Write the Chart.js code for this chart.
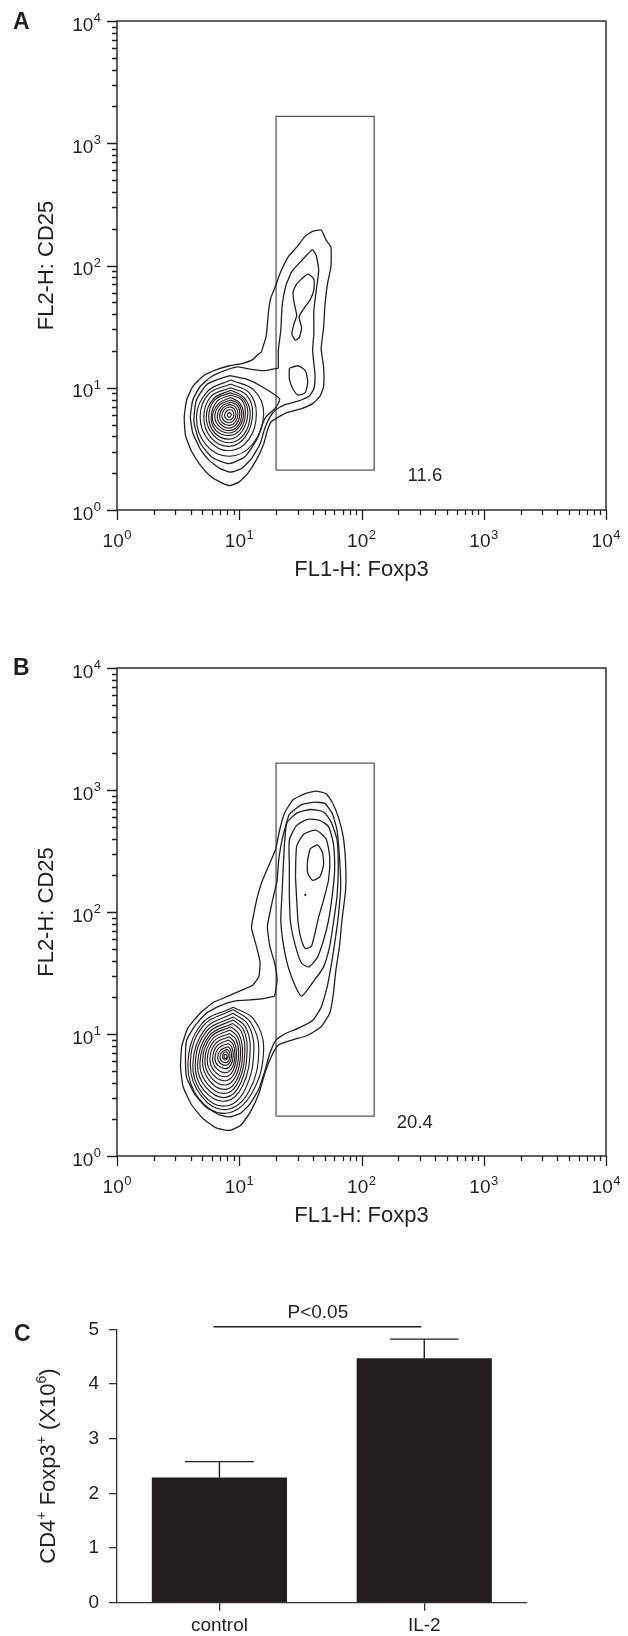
<!DOCTYPE html>
<html>
<head>
<meta charset="utf-8">
<script src="https://cdn.jsdelivr.net/npm/chart.js@4.4.1/dist/chart.umd.min.js"></script>
<style>
  html, body { margin: 0; padding: 0; background: #fff; }
  body { width: 628px; height: 1636px; position: relative; overflow: hidden; }
  canvas { position: absolute; left: 0; }
</style>
</head>
<body>
<canvas id="panelA" width="628" height="600" style="top:0"></canvas>
<canvas id="panelB" width="628" height="600" style="top:640px"></canvas>
<canvas id="panelC" width="628" height="356" style="top:1280px"></canvas>
<script>
// panel A / B: contour lines, points are [log10 FL1, log10 FL2]
const aOuter = [
  [1.18,1.29],[1.22,1.42],[1.24,1.63],[1.26,1.74],[1.30,1.84],[1.34,1.95],[1.40,2.07],[1.47,2.15],
  [1.54,2.24],[1.60,2.28],[1.67,2.29],[1.71,2.21],[1.75,2.15],[1.75,1.99],[1.72,1.84],[1.70,1.66],
  [1.69,1.49],[1.67,1.32],[1.69,1.17],[1.69,1.01],[1.66,0.93],[1.60,0.87],[1.51,0.83],[1.40,0.80],
  [1.32,0.76],[1.26,0.72],[1.23,0.65],[1.20,0.54],[1.14,0.41],[1.07,0.30],[1.00,0.23],[0.92,0.20],
  [0.84,0.23],[0.76,0.28],[0.68,0.37],[0.61,0.48],[0.56,0.61],[0.55,0.76],[0.57,0.90],[0.62,1.01],
  [0.71,1.10],[0.82,1.15],[0.92,1.18],[1.03,1.20],[1.11,1.23],[1.15,1.27]
];
const aSecond = [
  [1.32,1.16],[1.32,1.31],[1.34,1.47],[1.35,1.66],[1.38,1.83],[1.43,1.95],[1.51,2.04],[1.60,2.13],
  [1.63,2.08],[1.65,1.96],[1.63,1.80],[1.61,1.63],[1.61,1.44],[1.60,1.31],[1.61,1.20],[1.62,1.10],
  [1.61,0.99],[1.57,0.93],[1.48,0.89],[1.37,0.86],[1.30,0.82],[1.25,0.76],[1.21,0.67],[1.17,0.54],
  [1.10,0.42],[1.02,0.34],[0.93,0.31],[0.84,0.34],[0.75,0.41],[0.68,0.50],[0.62,0.63],[0.60,0.76],
  [0.62,0.90],[0.68,1.01],[0.77,1.09],[0.88,1.14],[0.99,1.17],[1.10,1.15],[1.21,1.14]
];
const aTailIslands = [
  [[1.51,1.89],[1.56,1.93],[1.61,1.89],[1.61,1.80],[1.58,1.72],[1.53,1.65],[1.49,1.58],[1.51,1.49],
   [1.49,1.41],[1.46,1.39],[1.43,1.44],[1.45,1.53],[1.47,1.59],[1.45,1.69],[1.44,1.78],[1.47,1.85]],
  [[1.41,1.16],[1.48,1.18],[1.54,1.14],[1.56,1.05],[1.54,0.96],[1.48,0.94],[1.44,0.99],[1.41,1.07]],
  [[0.92,1.10],[1.06,1.07],[1.20,1.00],[1.33,0.91],[1.30,0.84],[1.21,0.75],[1.15,0.59],[1.05,0.44],
   [0.92,0.38],[0.78,0.43],[0.68,0.55],[0.63,0.72],[0.65,0.90],[0.74,1.03]]
];
const aBlobRings = [
  [[0.93,1.063],[1.12,0.98],[1.20,0.79],[1.11,0.54],[0.92,0.44],[0.73,0.53],[0.65,0.76],[0.74,0.97]],
  [[0.93,1.03],[1.08,0.96],[1.14,0.79],[1.08,0.58],[0.92,0.485],[0.75,0.57],[0.68,0.76],[0.75,0.95]],
  [[0.93,1.00],[1.06,0.94],[1.11,0.79],[1.05,0.60],[0.92,0.52],[0.77,0.59],[0.71,0.76],[0.77,0.93]],
  [[0.93,0.98],[1.04,0.92],[1.09,0.79],[1.04,0.62],[0.92,0.55],[0.79,0.61],[0.73,0.76],[0.79,0.91]],
  [[0.93,0.96],[1.03,0.91],[1.07,0.79],[1.02,0.64],[0.92,0.58],[0.80,0.63],[0.75,0.76],[0.80,0.90]],
  [[0.93,0.94],[1.02,0.90],[1.05,0.79],[1.01,0.66],[0.92,0.61],[0.81,0.65],[0.77,0.76],[0.82,0.89]],
  [[0.93,0.92],[1.00,0.88],[1.035,0.79],[1.00,0.68],[0.92,0.63],[0.82,0.67],[0.78,0.76],[0.83,0.87]],
  [[0.93,0.90],[0.99,0.87],[1.02,0.79],[0.99,0.69],[0.92,0.65],[0.84,0.68],[0.80,0.76],[0.84,0.86]],
  [[0.93,0.883],[0.983,0.855],[1.005,0.79],[0.98,0.706],[0.92,0.67],[0.85,0.697],[0.82,0.76],[0.853,0.846]],
  [[0.925,0.864],[0.97,0.842],[0.989,0.785],[0.968,0.72],[0.92,0.692],[0.863,0.714],[0.839,0.765],[0.865,0.834]],
  [[0.922,0.845],[0.958,0.827],[0.973,0.782],[0.955,0.733],[0.918,0.714],[0.876,0.73],[0.858,0.768],[0.877,0.822]],
  [[0.92,0.823],[0.945,0.812],[0.956,0.78],[0.945,0.75],[0.918,0.736],[0.892,0.748],[0.880,0.772],[0.892,0.805]],
  [[0.918,0.80],[0.935,0.782],[0.918,0.758],[0.902,0.778]]
];

const bOuter = [
  [1.30,2.52],[1.33,2.67],[1.37,2.81],[1.44,2.92],[1.54,2.97],[1.63,2.99],[1.71,2.97],[1.76,2.90],
  [1.81,2.78],[1.85,2.62],[1.87,2.40],[1.87,2.18],[1.84,1.93],[1.82,1.72],[1.79,1.52],[1.77,1.33],
  [1.74,1.17],[1.67,1.06],[1.56,0.99],[1.43,0.95],[1.32,0.91],[1.26,0.81],[1.21,0.68],[1.16,0.51],
  [1.09,0.36],[1.01,0.25],[0.92,0.21],[0.81,0.23],[0.70,0.31],[0.61,0.42],[0.54,0.57],[0.52,0.73],
  [0.53,0.90],[0.58,1.05],[0.68,1.17],[0.79,1.26],[0.91,1.31],[1.02,1.36],[1.11,1.40],[1.16,1.47],
  [1.17,1.59],[1.14,1.72],[1.10,1.87],[1.12,1.99],[1.15,2.13],[1.19,2.26],[1.25,2.40]
];
const bSecond = [
  [1.29,1.31],[1.31,1.44],[1.29,1.58],[1.25,1.72],[1.23,1.88],[1.25,1.99],[1.28,2.13],[1.31,2.26],
  [1.32,2.40],[1.34,2.54],[1.37,2.67],[1.41,2.80],[1.51,2.88],[1.62,2.90],[1.70,2.89],[1.76,2.81],
  [1.80,2.67],[1.82,2.45],[1.83,2.21],[1.81,1.96],[1.78,1.74],[1.75,1.55],[1.72,1.39],[1.67,1.22],
  [1.60,1.11],[1.49,1.05],[1.37,1.00],[1.30,0.95],[1.25,0.84],[1.21,0.70],[1.16,0.55],[1.09,0.43],
  [1.01,0.35],[0.92,0.32],[0.83,0.34],[0.73,0.40],[0.64,0.50],[0.57,0.64],[0.56,0.80],[0.57,0.95],
  [0.64,1.07],[0.73,1.17],[0.84,1.23],[0.96,1.27],[1.09,1.28],[1.20,1.29]
];
const bTailRings = [
  [[1.37,2.56],[1.39,2.73],[1.47,2.81],[1.58,2.84],[1.69,2.82],[1.75,2.74],[1.80,2.59],[1.81,2.37],
   [1.80,2.13],[1.77,1.91],[1.74,1.72],[1.69,1.55],[1.60,1.42],[1.51,1.31],[1.46,1.39],[1.40,1.55],
   [1.36,1.74],[1.34,1.93],[1.35,2.15],[1.36,2.37]],
  [[1.41,2.37],[1.41,2.59],[1.47,2.71],[1.56,2.76],[1.66,2.75],[1.73,2.70],[1.77,2.56],[1.78,2.34],
   [1.76,2.13],[1.73,1.93],[1.69,1.77],[1.64,1.63],[1.57,1.55],[1.51,1.58],[1.46,1.72],[1.42,1.91],
   [1.41,2.13]],
  [[1.46,2.29],[1.47,2.54],[1.53,2.64],[1.63,2.67],[1.71,2.60],[1.74,2.45],[1.73,2.26],[1.69,2.10],
   [1.65,1.96],[1.62,1.83],[1.59,1.72],[1.54,1.70],[1.50,1.80],[1.48,1.93],[1.47,2.10]],
  [[1.58,2.52],[1.64,2.55],[1.68,2.49],[1.69,2.39],[1.66,2.29],[1.60,2.26],[1.56,2.32],[1.56,2.43]],
  [[1.535,2.145],[1.545,2.145],[1.54,2.135]]
];
const bBlobRings = [
  [[0.95,1.22],[1.12,1.12],[1.20,0.88],[1.10,0.51],[0.89,0.35],[0.67,0.47],[0.58,0.75],[0.69,1.08]],
  [[0.95,1.20],[1.09,1.10],[1.16,0.88],[1.08,0.53],[0.89,0.38],[0.69,0.49],[0.60,0.75],[0.70,1.06]],
  [[0.95,1.17],[1.07,1.08],[1.12,0.88],[1.05,0.55],[0.89,0.41],[0.70,0.51],[0.62,0.75],[0.72,1.04]],
  [[0.95,1.14],[1.05,1.06],[1.09,0.88],[1.03,0.58],[0.89,0.45],[0.71,0.54],[0.64,0.75],[0.73,1.02]],
  [[0.95,1.115],[1.03,1.045],[1.065,0.88],[1.013,0.60],[0.89,0.48],[0.728,0.562],[0.659,0.75],[0.746,1.006]],
  [[0.945,1.087],[1.016,1.022],[1.046,0.87],[0.999,0.621],[0.89,0.514],[0.742,0.588],[0.678,0.76],[0.758,0.989]],
  [[0.93,1.06],[0.998,0.997],[1.027,0.85],[0.986,0.637],[0.89,0.546],[0.757,0.616],[0.70,0.78],[0.769,0.976]],
  [[0.925,1.033],[0.985,0.977],[1.011,0.845],[0.975,0.661],[0.89,0.582],[0.77,0.643],[0.719,0.785],[0.781,0.959]],
  [[0.92,1.005],[0.973,0.956],[0.995,0.84],[0.964,0.684],[0.89,0.617],[0.784,0.669],[0.738,0.79],[0.793,0.941]],
  [[0.915,0.978],[0.959,0.935],[0.978,0.835],[0.952,0.705],[0.89,0.65],[0.799,0.694],[0.76,0.795],[0.806,0.923]],
  [[0.912,0.951],[0.949,0.915],[0.965,0.83],[0.943,0.727],[0.89,0.683],[0.814,0.718],[0.782,0.80],[0.821,0.906]],
  [[0.908,0.923],[0.938,0.894],[0.951,0.825],[0.933,0.749],[0.89,0.716],[0.828,0.741],[0.801,0.80],[0.833,0.886]],
  [[0.905,0.896],[0.928,0.875],[0.937,0.82],[0.922,0.765],[0.89,0.743],[0.845,0.76],[0.823,0.805],[0.846,0.866]],
  [[0.90,0.874],[0.918,0.858],[0.924,0.82],[0.912,0.78],[0.888,0.765],[0.856,0.778],[0.842,0.81],[0.86,0.853]],
  [[0.895,0.855],[0.908,0.84],[0.91,0.818],[0.90,0.795],[0.885,0.787],[0.868,0.797],[0.864,0.818],[0.873,0.845]],
  [[0.878,0.80],[0.895,0.80],[0.895,0.83],[0.878,0.83]]
];

// gate (same for A and B), in fluorescence units
const gateFL1 = [20, 127];
const gateFL2 = [2.12, 1660];
const gatePercents = ['11.6', '20.4'];
const gateLabelSpots = [[330, 1.90], [273, 1.85]];

// log axes
const decadeExponents = [0, 1, 2, 3, 4];
const minorSteps = [2, 3, 4, 5, 6, 7, 8, 9];

// panel C
const groups = ['control', 'IL-2'];
const cellMeans = [2.29, 4.47];
const cellSem = [0.29, 0.35];
const pLabel = 'P<0.05';

const INK = '#231f20';
const FONT = '"Liberation Sans", Arial, Helvetica, sans-serif';

const logTicks = [];
decadeExponents.forEach(e => {
  logTicks.push(10 ** e);
  if (e < 4) minorSteps.forEach(m => logTicks.push(m * 10 ** e));
});
const isDecade = v => Math.abs(Math.log10(v) - Math.round(Math.log10(v))) < 1e-9;

function ringData(ring) {
  return ring.concat([ring[0]]).map(([lx, ly]) => ({ x: 10 ** lx, y: 10 ** ly }));
}
function lineSet(ring, tension, width) {
  return { data: ringData(ring), showLine: true, tension, borderColor: INK, borderWidth: width, pointRadius: 0, fill: false };
}
function gateSet() {
  const pts = [[gateFL1[0], gateFL2[0]], [gateFL1[1], gateFL2[0]], [gateFL1[1], gateFL2[1]], [gateFL1[0], gateFL2[1]], [gateFL1[0], gateFL2[0]]];
  return { data: pts.map(([x, y]) => ({ x, y })), showLine: true, tension: 0, borderColor: '#58595b', borderWidth: 1.3, pointRadius: 0, fill: false };
}

function drawPower(ctx, px, baseline, e, align) {
  ctx.font = `19px ${FONT}`;
  const w10 = ctx.measureText('10').width;
  ctx.font = `13px ${FONT}`;
  const ws = ctx.measureText(String(e)).width;
  const w = w10 + ws + 0.5;
  const x0 = align === 'center' ? px - w / 2 : px - w;
  ctx.textAlign = 'left';
  ctx.textBaseline = 'alphabetic';
  ctx.font = `19px ${FONT}`;
  ctx.fillText('10', x0, baseline);
  ctx.font = `13px ${FONT}`;
  ctx.fillText(String(e), x0 + w10 + 0.5, baseline - 8.5);
}

const flowFrame = {
  id: 'flowFrame',
  afterDraw(chart, args, o) {
    const { ctx, chartArea: a, scales: { x, y } } = chart;
    ctx.save();
    ctx.strokeStyle = INK;
    ctx.lineWidth = 1.4;
    ctx.strokeRect(a.left, a.top, a.right - a.left, a.bottom - a.top);
    ctx.lineWidth = 1.3;
    ctx.beginPath();
    x.ticks.forEach(t => {
      const px = Math.round(x.getPixelForValue(t.value)) + 0.5;
      ctx.moveTo(px, a.bottom);
      ctx.lineTo(px, a.bottom + (isDecade(t.value) ? 10 : 5));
    });
    y.ticks.forEach(t => {
      const py = Math.round(y.getPixelForValue(t.value)) + 0.5;
      ctx.moveTo(a.left, py);
      ctx.lineTo(a.left - (isDecade(t.value) ? 10 : 5), py);
    });
    ctx.stroke();
    ctx.fillStyle = INK;
    decadeExponents.forEach(e => {
      drawPower(ctx, x.getPixelForValue(10 ** e), a.bottom + 37, e, 'center');
      drawPower(ctx, a.left - 16, y.getPixelForValue(10 ** e) + 9.5, e, 'right');
    });
    ctx.font = `22px ${FONT}`;
    ctx.textAlign = 'center';
    ctx.textBaseline = 'alphabetic';
    ctx.fillText(o.xTitle, (a.left + a.right) / 2, a.bottom + 66);
    ctx.save();
    ctx.translate(53, (a.top + a.bottom) / 2);
    ctx.rotate(-Math.PI / 2);
    ctx.fillText(o.yTitle, 0, 0);
    ctx.restore();
    ctx.font = `bold 23px ${FONT}`;
    ctx.textAlign = 'left';
    ctx.fillText(o.letter, 13, o.letterBaseline);
    ctx.font = `18.5px ${FONT}`;
    ctx.textAlign = 'center';
    ctx.textBaseline = 'middle';
    ctx.fillText(o.gateText, x.getPixelForValue(o.gateSpot[0]), y.getPixelForValue(o.gateSpot[1]));
    ctx.restore();
  }
};

function flowChart(id, sets, padTop, xAxisHeight, letter, letterBaseline, gateText, gateSpot) {
  const axis = fit => ({
    type: 'logarithmic', min: 1, max: 10000,
    ticks: { display: false }, grid: { display: false }, border: { display: false },
    afterBuildTicks: s => { s.ticks = logTicks.map(v => ({ value: v })); },
    afterFit: fit
  });
  return new Chart(document.getElementById(id), {
    type: 'scatter',
    data: { datasets: sets.concat([gateSet()]) },
    options: {
      responsive: false, animation: false,
      layout: { padding: { left: 0, top: padTop, right: 22, bottom: 0 } },
      plugins: {
        legend: { display: false }, tooltip: { enabled: false },
        flowFrame: { xTitle: 'FL1-H: Foxp3', yTitle: 'FL2-H: CD25', letter, letterBaseline, gateText, gateSpot }
      },
      scales: {
        x: axis(s => { s.height = xAxisHeight; }),
        y: axis(s => { s.width = 117; })
      }
    },
    plugins: [flowFrame]
  });
}

const setsA = [lineSet(aOuter, 0.15, 1.3), lineSet(aSecond, 0.15, 1.3)]
  .concat(aTailIslands.map(r => lineSet(r, 0.2, 1.3)))
  .concat(aBlobRings.map(r => lineSet(r, 0.4, 1.15)));
const setsB = [lineSet(bOuter, 0.15, 1.3), lineSet(bSecond, 0.15, 1.3)]
  .concat(bTailRings.map(r => lineSet(r, 0.2, 1.3)))
  .concat(bBlobRings.map(r => lineSet(r, 0.4, 1.15)));

flowChart('panelA', setsA, 21, 90, 'A', 29, gatePercents[0], gateLabelSpots[0]);
flowChart('panelB', setsB, 28, 84, 'B', 35, gatePercents[1], gateLabelSpots[1]);

// panel C
const barExtras = {
  id: 'barExtras',
  afterDatasetsDraw(chart) {
    const { ctx, chartArea: a, scales: { y } } = chart;
    const bars = chart.getDatasetMeta(0).data;
    ctx.save();
    ctx.strokeStyle = INK;
    ctx.lineWidth = 1.4;
    ctx.beginPath();
    bars.forEach((bar, i) => {
      const top = y.getPixelForValue(cellMeans[i] + cellSem[i]);
      const half = bar.width * 0.255;
      ctx.moveTo(bar.x, bar.y);
      ctx.lineTo(bar.x, top);
      ctx.moveTo(bar.x - half, top);
      ctx.lineTo(bar.x + half, top);
    });
    const sy = a.top - 2.5;
    ctx.moveTo(bars[0].x - 6, sy);
    ctx.lineTo(bars[1].x - 3, sy);
    ctx.stroke();
    ctx.fillStyle = INK;
    ctx.font = `19px ${FONT}`;
    ctx.textAlign = 'center';
    ctx.textBaseline = 'alphabetic';
    ctx.fillText(pLabel, (bars[0].x + bars[1].x) / 2 - 4, sy - 9);

    // y title with superscripts
    const parts = [['CD4', 0], ['+', 1], [' Foxp3', 0], ['+', 1], [' (X10', 0], ['6', 1], [')', 0]];
    const fontFor = s => s ? `14px ${FONT}` : `22px ${FONT}`;
    let total = 0;
    parts.forEach(([t, s]) => { ctx.font = fontFor(s); total += ctx.measureText(t).width; });
    ctx.save();
    ctx.translate(55, (a.top + a.bottom) / 2);
    ctx.rotate(-Math.PI / 2);
    ctx.textAlign = 'left';
    let cx = -total / 2;
    parts.forEach(([t, s]) => {
      ctx.font = fontFor(s);
      ctx.fillText(t, cx, s ? -9 : 0);
      cx += ctx.measureText(t).width;
    });
    ctx.restore();
    ctx.font = `bold 23px ${FONT}`;
    ctx.textAlign = 'left';
    ctx.fillText('C', 14, 61);
    ctx.restore();
  }
};

new Chart(document.getElementById('panelC'), {
  type: 'bar',
  data: {
    labels: groups,
    datasets: [{ data: cellMeans, backgroundColor: INK, borderWidth: 0, barPercentage: 0.66, categoryPercentage: 1 }]
  },
  options: {
    responsive: false, animation: false,
    layout: { padding: { left: 0, top: 49.3, right: 101.3, bottom: 0 } },
    plugins: { legend: { display: false }, tooltip: { enabled: false } },
    scales: {
      x: {
        grid: { offset: false, drawOnChartArea: false, drawTicks: true, tickLength: 8, color: '#333', lineWidth: 1.3 },
        border: { color: '#333', width: 1.3 },
        ticks: { font: { family: FONT, size: 19 }, color: INK, padding: 4 },
        afterFit: s => { s.height = 33.3; }
      },
      y: {
        min: 0, max: 5,
        grid: { drawOnChartArea: false, drawTicks: true, tickLength: 8, color: '#333', lineWidth: 1.3 },
        border: { color: '#333', width: 1.3 },
        ticks: { stepSize: 1, font: { family: FONT, size: 19 }, color: INK, padding: 10 },
        afterFit: s => { s.width = 117; }
      }
    }
  },
  plugins: [barExtras]
});
</script>
</body>
</html>
